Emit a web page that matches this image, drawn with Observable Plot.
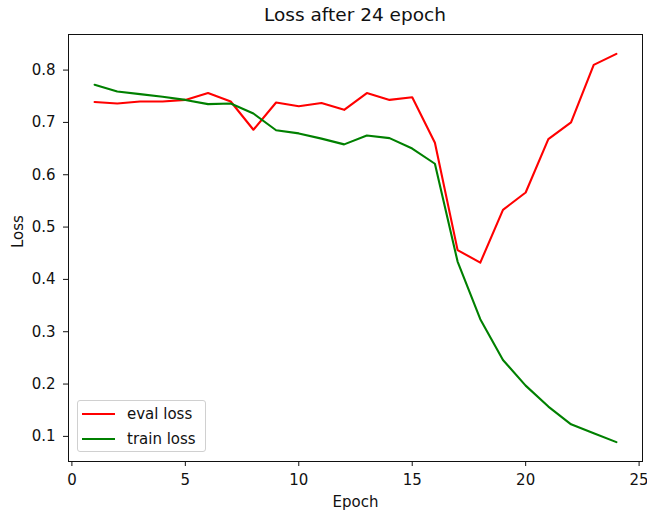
<!DOCTYPE html>
<html>
<head>
<meta charset="utf-8">
<script src="https://cdn.jsdelivr.net/npm/d3@7"></script>
<script src="https://cdn.jsdelivr.net/npm/@observablehq/plot@0.6"></script>
<style>
  body { margin: 0; background: #fff; font-family: "DejaVu Sans", sans-serif; }
  #wrap { position: relative; width: 647px; height: 512px; }
  #title { position: absolute; left: 68px; width: 574px; top: 4px; text-align: center; font-size: 18.5px; color: #111; }
  #chart { position: absolute; left: 0; top: 33px; }
  #legend { position: absolute; left: 77px; top: 400px; width: 129px; height: 52px; border: 1px solid #d0d0d0; border-radius: 3px; background: rgba(255,255,255,0.8); box-sizing: border-box; }
  .item { position: absolute; left: 4px; height: 20px; display: flex; align-items: center; font-size: 15px; color: #111; }
  .swatch { width: 33px; height: 2px; margin-right: 12px; }
</style>
</head>
<body>
<div id="wrap">
  <div id="title">Loss after 24 epoch</div>
  <div id="chart"></div>
  <div id="legend"></div>
</div>
<script>
const epochs = [1,2,3,4,5,6,7,8,9,10,11,12,13,14,15,16,17,18,19,20,21,22,23,24];
const evalLoss = [0.739,0.736,0.740,0.740,0.743,0.756,0.740,0.686,0.738,0.731,0.737,0.724,0.756,0.743,0.748,0.661,0.456,0.432,0.533,0.566,0.668,0.700,0.810,0.831];
const trainLoss = [0.772,0.759,0.754,0.749,0.743,0.735,0.736,0.717,0.685,0.679,0.669,0.658,0.675,0.670,0.650,0.621,0.434,0.324,0.246,0.197,0.157,0.123,0.106,0.089];
const seriesNames = ["eval loss", "train loss"];
const seriesColors = ["#ff0000", "#008000"];
const xTicks = [0, 5, 10, 15, 20, 25];
const yTicks = [0.1, 0.2, 0.3, 0.4, 0.5, 0.6, 0.7, 0.8];
const xLabel = "Epoch";
const yLabel = "Loss";

const data = [];
epochs.forEach((e, i) => {
  data.push({epoch: e, loss: evalLoss[i], series: seriesNames[0]});
  data.push({epoch: e, loss: trainLoss[i], series: seriesNames[1]});
});

const plot = Plot.plot({
  width: 647,
  height: 479,
  marginTop: 1,
  marginRight: 5,
  marginBottom: 51,
  marginLeft: 68,
  style: {fontFamily: "DejaVu Sans, sans-serif", fontSize: "15px", color: "#111", background: "#fff"},
  x: {domain: [-0.15, 25.15], ticks: xTicks, label: null},
  y: {domain: [0.052, 0.868], ticks: yTicks, label: null},
  color: {domain: seriesNames, range: seriesColors},
  marks: [
    Plot.frame({stroke: "#111", strokeWidth: 1}),
    Plot.axisX({ticks: xTicks, tickSize: 5, tickPadding: 8, tickFormat: d => String(d), label: null, stroke: "#111"}),
    Plot.axisY({ticks: yTicks, tickSize: 5, tickPadding: 8, tickFormat: d => d.toFixed(1), label: null, stroke: "#111"}),
    Plot.line(data, {x: "epoch", y: "loss", z: "series", stroke: "series", strokeWidth: 2.1}),
    Plot.text([xLabel], {frameAnchor: "bottom", dy: 45, lineAnchor: "bottom", text: d => d, fontSize: 15, fill: "#111"}),
    Plot.text([yLabel], {frameAnchor: "left", dx: -50, rotate: -90, text: d => d, fontSize: 15, fill: "#111"})
  ]
});
document.getElementById("chart").appendChild(plot);

const legend = document.getElementById("legend");
seriesNames.forEach((name, i) => {
  const item = document.createElement("div");
  item.className = "item";
  item.style.top = (3 + i * 25) + "px";
  const sw = document.createElement("div");
  sw.className = "swatch";
  sw.style.background = seriesColors[i];
  const lab = document.createElement("span");
  lab.textContent = name;
  item.appendChild(sw);
  item.appendChild(lab);
  legend.appendChild(item);
});
</script>
</body>
</html>
